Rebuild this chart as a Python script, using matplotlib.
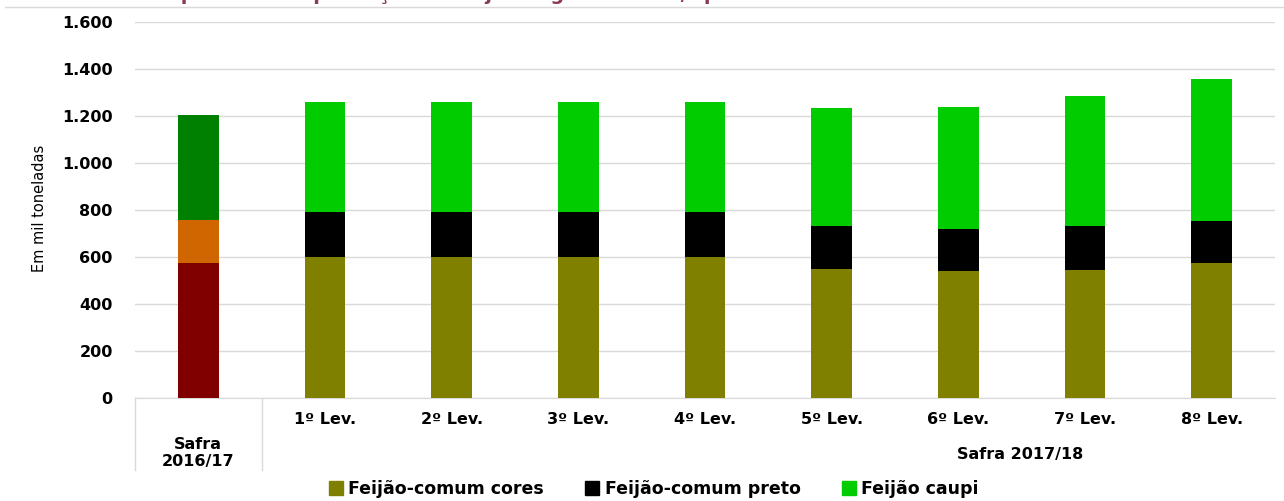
import matplotlib
matplotlib.use('Agg')
import matplotlib.pyplot as plt
import matplotlib.transforms as mtransforms
from matplotlib.lines import Line2D
import numpy as np

# data (mil toneladas)
cats = ['Safra\n2016/17', '1º Lev.', '2º Lev.', '3º Lev.', '4º Lev.', '5º Lev.', '6º Lev.', '7º Lev.', '8º Lev.']
cores = [574, 600, 600, 600, 600, 549, 540, 545, 576]
preto = [183, 192, 192, 192, 192, 184, 179, 185, 178]
caupi = [447, 469, 469, 469, 469, 501, 519, 555, 603]
series_names = ['Feijão-comum cores', 'Feijão-comum preto', 'Feijão caupi']

# first bar (previous harvest) uses its own palette
col_cores = ['#800000'] + ['#808000'] * 8
col_preto = ['#D06600'] + ['#000000'] * 8
col_caupi = ['#008000'] + ['#00CC00'] * 8

plt.rcParams['font.family'] = ['DejaVu Sans']

fig = plt.figure(figsize=(12.84, 5.01), dpi=100)
ax = fig.add_axes([135/1284, 1 - 398/501, (1275 - 135)/1284, (398 - 22)/501])

x = np.arange(len(cats))
w = 0.32
cores = np.array(cores)
preto = np.array(preto)
caupi = np.array(caupi)
ax.bar(x, cores, w, color=col_cores, zorder=3)
ax.bar(x, preto, w, bottom=cores, color=col_preto, zorder=3)
ax.bar(x, caupi, w, bottom=cores + preto, color=col_caupi, zorder=3)

ax.set_xlim(-0.5, len(cats) - 0.5)
ax.set_ylim(0, 1600)
ax.set_yticks(range(0, 1601, 200))
ax.set_yticklabels(['{:,}'.format(v).replace(',', '.') for v in range(0, 1601, 200)],
                   fontsize=11.5, fontweight='bold')
ax.yaxis.grid(True, color='#D9D9D9', lw=1, zorder=0)
ax.tick_params(axis='y', length=0, pad=16)
for s in ['top', 'right', 'left']:
    ax.spines[s].set_visible(False)
ax.spines['bottom'].set_color('#D9D9D9')

ax.set_xticks(x[1:])
ax.set_xticklabels(cats[1:], fontsize=11.5, fontweight='bold')
ax.tick_params(axis='x', length=0, pad=10)

trans = mtransforms.blended_transform_factory(ax.transData, ax.transAxes)
for xs in [-0.5, 0.5]:
    ax.add_line(Line2D([xs, xs], [0, -72/376], transform=trans, color='#D9D9D9',
                       lw=1, clip_on=False))
ax.text(0, -55/376, cats[0], transform=trans, ha='center', va='center',
        fontsize=11.5, fontweight='bold', linespacing=1.1)
ax.text((1020 - 135) / (1275 - 135) * 9 - 0.5, -56/376, 'Safra 2017/18', transform=trans,
        ha='center', va='center', fontsize=11.5, fontweight='bold')

fig.text(40/1284, 1 - 208/501, 'Em mil toneladas', rotation=90, ha='center', va='center',
         fontsize=10.5, family=['Liberation Sans Narrow', 'DejaVu Sans'])

# title (cut off at the top of the image in the reference)
fig.text(10/1284, 1 - 0.5/501, 'Gráfico 5 – Comparativo da produção de feijão segundo a cor/tipo',
         ha='left', va='baseline', fontsize=14, fontweight='bold', color='#8B3A5A')
fig.add_artist(Line2D([5/1284, 1], [1 - 7/501] * 2, transform=fig.transFigure,
                      color='#D9D9D9', lw=1))

handles = [Line2D([], [], marker='s', ls='none', markersize=10, color=c)
           for c in ['#808000', '#000000', '#00CC00']]
fig.legend(handles, series_names, loc='center', bbox_to_anchor=(653/1284, 1 - 489/501),
           ncol=3, frameon=False, prop={'size': 12.5, 'weight': 'bold'},
           handletextpad=0.2, columnspacing=2.3, handlelength=1)

fig.savefig('out.png', dpi=100, facecolor='white')
